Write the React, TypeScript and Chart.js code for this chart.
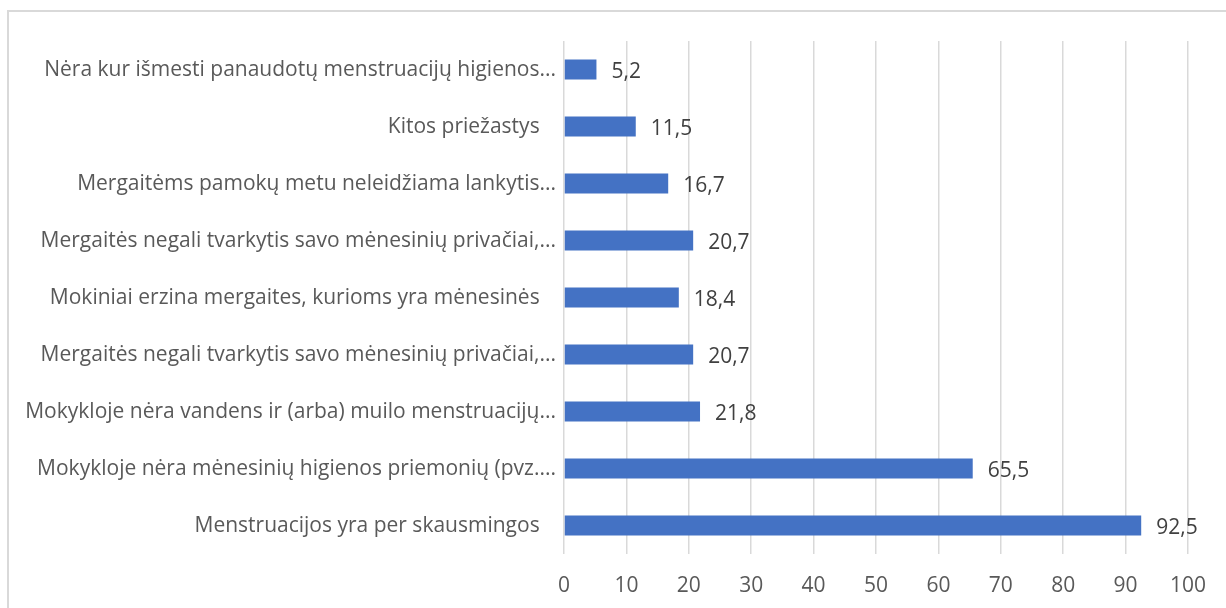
import React, { useEffect, useRef } from "react";
import { Chart, registerables } from "chart.js";

Chart.register(...registerables);

const categories: string[] = [
  "Nėra kur išmesti panaudotų menstruacijų higienos...",
  "Kitos priežastys   ",
  "Mergaitėms pamokų metu neleidžiama lankytis...",
  "Mergaitės negali tvarkytis savo mėnesinių privačiai,...",
  "Mokiniai erzina mergaites, kurioms yra mėnesinės   ",
  "Mergaitės negali tvarkytis savo mėnesinių privačiai,...",
  "Mokykloje nėra vandens ir (arba) muilo menstruacijų...",
  "Mokykloje nėra mėnesinių higienos priemonių (pvz....",
  "Menstruacijos yra per skausmingos   ",
];

const values: number[] = [5.2, 11.5, 16.7, 20.7, 18.4, 20.7, 21.8, 65.5, 92.5];

const xMin = 0;
const xMax = 100;
const xStep = 10;

const FONT = "'Open Sans'";

const valueLabelPlugin = {
  id: "valueLabels",
  afterDatasetsDraw(chart: any) {
    const ctx = chart.ctx;
    const meta = chart.getDatasetMeta(0);
    ctx.save();
    ctx.font = `21px ${FONT}`;
    ctx.fillStyle = "#404040";
    ctx.textAlign = "left";
    ctx.textBaseline = "middle";
    meta.data.forEach((bar: any, i: number) => {
      const txt = values[i].toFixed(1).replace(".", ",");
      ctx.fillText(txt, bar.x + 15, bar.y + 3);
    });
    ctx.restore();
  },
};

export default function App() {
  const ref = useRef<HTMLCanvasElement | null>(null);

  useEffect(() => {
    if (!ref.current) return;
    const chart = new Chart(ref.current, {
      type: "bar",
      data: {
        labels: categories,
        datasets: [
          {
            data: values,
            backgroundColor: "#4472C4",
            borderWidth: 0,
            barPercentage: 0.35,
            categoryPercentage: 1,
          },
        ],
      },
      options: {
        indexAxis: "y",
        animation: false,
        responsive: false,
        maintainAspectRatio: false,
        layout: { padding: { top: 41, right: 38, bottom: 0, left: 0 } },
        plugins: {
          legend: { display: false },
          title: { display: false },
          tooltip: { enabled: false },
        },
        scales: {
          x: {
            min: xMin,
            max: xMax,
            ticks: {
              stepSize: xStep,
              color: "#595959",
              font: { family: FONT, size: 21 },
              padding: 19,
            },
            grid: { color: "#d9d9d9", lineWidth: 1.5, drawTicks: false },
            border: { display: false },
            afterFit: (scale: any) => {
              scale.height = 54;
            },
          },
          y: {
            ticks: {
              color: "#595959",
              font: { family: FONT, size: 21 },
              padding: 8,
              labelOffset: 1,
              autoSkip: false,
            },
            grid: { display: false, drawTicks: false },
            border: { display: false },
            afterFit: (scale: any) => {
              scale.width = 564;
            },
          },
        },
      },
      plugins: [valueLabelPlugin],
    });
    return () => chart.destroy();
  }, []);

  return (
    <div
      style={{
        position: "fixed",
        left: 0,
        top: 0,
        width: 1226,
        height: 608,
        background: "#ffffff",
        overflow: "hidden",
      }}
    >
      <div
        style={{
          position: "absolute",
          left: 7,
          top: 10,
          width: 1400,
          height: 800,
          border: "2px solid #d9d9d9",
          boxSizing: "border-box",
        }}
      />
      <canvas
        ref={ref}
        width={1226}
        height={608}
        style={{ position: "absolute", left: 0, top: 0 }}
      />
    </div>
  );
}
